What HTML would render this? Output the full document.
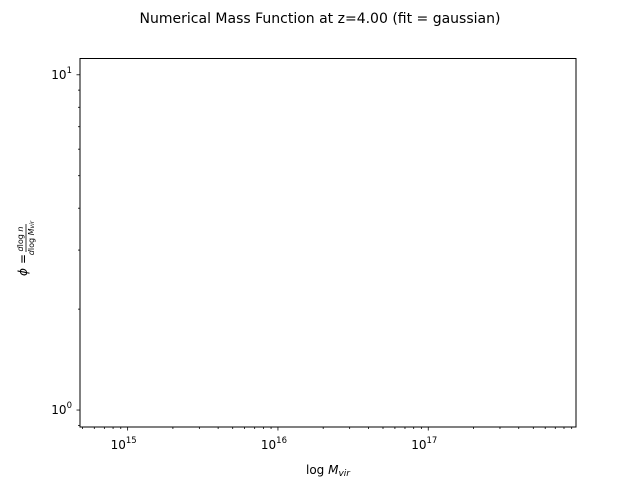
<!DOCTYPE html>
<html><head><meta charset="utf-8"><style>
body{margin:0;background:#fff;}
svg text{font-family:"DejaVu Sans","Liberation Sans",sans-serif;fill:#000;}
</style></head><body>
<svg id="chart" width="640" height="480" viewBox="0 0 640 480">
<rect width="640" height="480" fill="#fff"/>
<text x="320" y="23" font-size="14" text-anchor="middle">Numerical Mass Function at z=4.00 (fit = gaussian)</text>
<g id="ticks"></g>
<rect x="80" y="58.5" width="496" height="368.5" fill="none" stroke="#000" stroke-width="1"/>
<text x="328" y="474" font-size="12" text-anchor="middle">log <tspan font-style="italic">M</tspan><tspan font-style="italic" font-size="9" dy="2">vir</tspan></text>
<g transform="translate(27,256) rotate(-90)">
<text x="-20" y="0" font-size="12" font-style="italic">ϕ</text>
<text x="-8" y="0" font-size="12">=</text>
<text x="17" y="-4" font-size="8" text-anchor="middle"><tspan font-style="italic">d</tspan>log <tspan font-style="italic">n</tspan></text>
<line x1="4" y1="-1" x2="32" y2="-1" stroke="#000" stroke-width="0.8"/>
<text x="18" y="7" font-size="8" text-anchor="middle"><tspan font-style="italic">d</tspan>log <tspan font-style="italic">M</tspan><tspan font-size="6" font-style="italic">vir</tspan></text>
</g>
</svg>
<script>
const xDomain=[14.683,17.983];
const yDomain=[-0.0506,1.0486];
const xMajorExps=[15,16,17];
const yMajorExps=[0,1];
const L=80,R=576,T=58.5,B=427;
function xs(v){return L+(v-xDomain[0])/(xDomain[1]-xDomain[0])*(R-L);}
function ys(v){return B-(v-yDomain[0])/(yDomain[1]-yDomain[0])*(B-T);}
const g=document.getElementById('ticks');
const NS='http://www.w3.org/2000/svg';
function line(x1,y1,x2,y2,name){const l=document.createElementNS(NS,'line');
l.setAttribute('x1',x1);l.setAttribute('y1',y1);l.setAttribute('x2',x2);l.setAttribute('y2',y2);
l.setAttribute('stroke','#000');l.setAttribute('stroke-width','0.8');


g.appendChild(l);}
function label(x,y,e,anchor,name){const t=document.createElementNS(NS,'text');
t.setAttribute('x',x);t.setAttribute('y',y);t.setAttribute('font-size','12');t.setAttribute('text-anchor',anchor);
t.innerHTML='10<tspan font-size="8.5" dy="-6">'+e+'</tspan>';


g.appendChild(t);}
for(let d=14;d<=17;d++){for(let m=1;m<10;m++){const v=d+Math.log10(m);
if(v<xDomain[0]||v>xDomain[1])continue;const x=xs(v);
if(m===1){line(x,B,x,B+3.5,'x-major-tick');}else{line(x,B,x,B+2,'x-minor-tick');}}}
xMajorExps.forEach(e=>label(xs(e)-4,B+22,e,'middle','x-tick-label'));
for(let d=-1;d<=1;d++){for(let m=1;m<10;m++){const v=d+Math.log10(m);
if(v<yDomain[0]||v>yDomain[1])continue;const y=ys(v);
if(m===1){line(L-3.5,y,L,y,'y-major-tick');}else{line(L-2,y,L,y,'y-minor-tick');}}}
yMajorExps.forEach(e=>label(L-8,ys(e)+4,e,'end','y-tick-label'));
</script>
</body></html>
